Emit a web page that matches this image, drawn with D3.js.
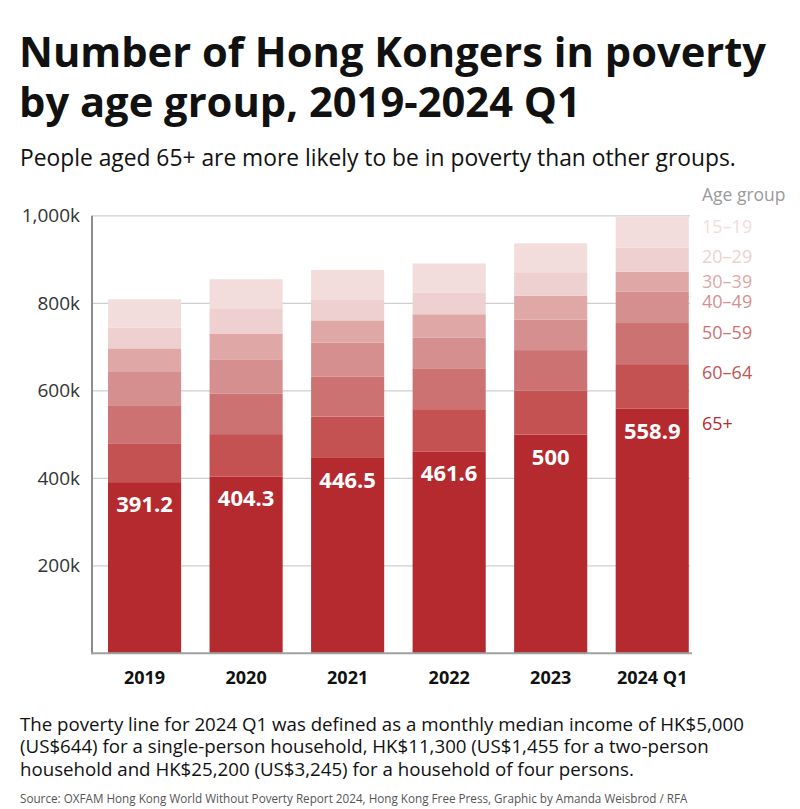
<!DOCTYPE html>
<html><head><meta charset="utf-8">
<script src="https://cdn.jsdelivr.net/npm/d3@7"></script>
<style>body{margin:0;background:#fff;} svg{display:block;font-family:"Open Sans",sans-serif;}</style>
</head><body><svg id="chart" width="800" height="809"></svg>
<script>
// ---- data (thousands of people) ----
const years = ["2019", "2020", "2021", "2022", "2023", "2024 Q1"];
const ageGroups = ["65+", "60–64", "50–59", "40–49", "30–39", "20–29", "15–19"];
const age65plus = [391.2, 404.3, 446.5, 461.6, 500, 558.9];
const age60to64 = [88.8, 96.7, 94.5, 96.4, 100, 102];
const age50to59 = [87, 93, 91, 92, 93, 94];
const age40to49 = [76, 78, 78, 72, 70, 71.5];
const age30to39 = [54, 59, 51, 53, 54, 45.5];
const age20to29 = [47, 56, 48, 50, 54, 55];
const age15to19 = [65, 68, 67, 66, 66, 71];
const yTicks = [200, 400, 600, 800, 1000];
const groupColors = ["#b52a2e", "#c45252", "#cd7272", "#d68f8f", "#e0a7a7", "#eed0d0", "#f2dcdc"];

const seriesValues = [age65plus, age60to64, age50to59, age40to49, age30to39, age20to29, age15to19];
const table = years.map((yr, i) => {
  const row = {year: yr};
  ageGroups.forEach((g, k) => row[g] = seriesValues[k][i]);
  return row;
});

const svg = d3.select("#chart");

// titles
const title = svg.append("text").attr("x", 20).attr("font-weight", 700).attr("font-size", 41.7).attr("fill", "#111");
title.append("tspan").attr("x", 19).attr("y", 67).text("Number of Hong Kongers in poverty");
title.append("tspan").attr("x", 19).attr("y", 117).text("by age group, 2019-2024 Q1");
svg.append("text").attr("x", 20).attr("y", 166).attr("font-size", 22.8).attr("fill", "#111")
  .text("People aged 65+ are more likely to be in poverty than other groups.");

// scales
const x = d3.scaleBand().domain(years).range([93.8, 703]).paddingInner(0.28).paddingOuter(0.14);
const y = d3.scaleLinear().domain([0, 1000]).range([653.3, 215.8]);
const color = d3.scaleOrdinal().domain(ageGroups).range(groupColors);

// gridlines + y axis labels
const yAxis = d3.axisLeft(y).tickValues(yTicks).tickFormat(d => d3.format(",")(d) + "k").tickSize(0).tickPadding(12);
const yg = svg.append("g").attr("transform", "translate(92,0)").call(yAxis);
yg.select(".domain").remove();
yg.selectAll("text").attr("font-size", 19).attr("fill", "#333").attr("font-family", "Open Sans, sans-serif");
svg.append("g").selectAll("line").data(yTicks).join("line")
  .attr("x1", 92).attr("x2", 690).attr("y1", d => y(d)).attr("y2", d => y(d))
  .attr("stroke", "#cfcfcf").attr("stroke-width", 1.2);

// stacked bars
const stack = d3.stack().keys(ageGroups)(table);
svg.append("g").selectAll("g").data(stack).join("g")
  .attr("fill", d => color(d.key))
  .selectAll("rect").data(d => d).join("rect")
  .attr("x", d => x(d.data.year)).attr("width", x.bandwidth())
  .attr("y", d => y(d[1])).attr("height", d => y(d[0]) - y(d[1]));

// value labels on 65+ segments
svg.append("g").selectAll("text").data(stack[0]).join("text")
  .attr("x", d => x(d.data.year) + x.bandwidth() / 2)
  .attr("y", d => y(d[1]) + 30)
  .attr("text-anchor", "middle").attr("font-weight", 700).attr("font-size", 22).attr("fill", "#fff")
  .text(d => String(d.data["65+"]));

// axes lines
svg.append("line").attr("x1", 92).attr("x2", 92).attr("y1", 215.8).attr("y2", 654.3)
  .attr("stroke", "#8c8c8c").attr("stroke-width", 2);
svg.append("line").attr("x1", 91).attr("x2", 692).attr("y1", 653.3).attr("y2", 653.3)
  .attr("stroke", "#a0a0a0").attr("stroke-width", 2);

// x axis labels
const xAxis = d3.axisBottom(x).tickSize(0).tickPadding(18);
const xg = svg.append("g").attr("transform", "translate(0,653.3)").call(xAxis);
xg.select(".domain").remove();
xg.selectAll("text").attr("font-size", 18).attr("font-weight", 700).attr("fill", "#111").attr("font-family", "Open Sans, sans-serif");

// legend
svg.append("text").attr("x", 702).attr("y", 201).attr("font-size", 17.5).attr("fill", "#9a9a9a").text("Age group");
const legendY = {"15–19": 233, "20–29": 263, "30–39": 288, "40–49": 308, "50–59": 339, "60–64": 379, "65+": 430};
svg.append("g").selectAll("text").data(ageGroups).join("text")
  .attr("x", 702).attr("y", d => legendY[d])
  .attr("font-size", 18).attr("fill", d => color(d)).text(d => d);

// footer
const foot = svg.append("text").attr("font-size", 18.7).attr("fill", "#111");
["The poverty line for 2024 Q1 was defined as a monthly median income of HK$5,000",
 "(US$644) for a single-person household, HK$11,300 (US$1,455 for a two-person",
 "household and HK$25,200 (US$3,245) for a household of four persons."]
  .forEach((t, i) => foot.append("tspan").attr("x", 20).attr("y", 731 + i * 22.3).text(t));
svg.append("text").attr("x", 20).attr("y", 803).attr("font-size", 11.7).attr("fill", "#555")
  .text("Source: OXFAM Hong Kong World Without Poverty Report 2024, Hong Kong Free Press, Graphic by Amanda Weisbrod / RFA");
</script></body></html>
